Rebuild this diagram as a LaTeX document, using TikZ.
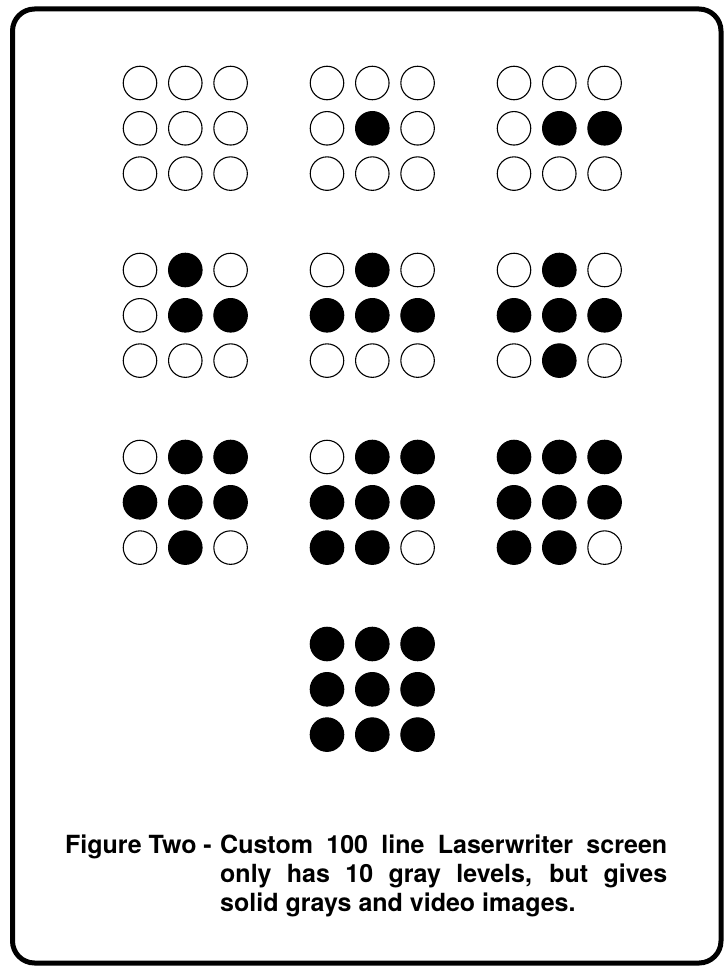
\documentclass[tikz,border=0pt]{standalone}
\usepackage{fontspec}
\setmainfont{TeX Gyre Heros}
\usepackage{xcolor}
\usepackage{tikz}
\usetikzlibrary{positioning}

\begin{document}
\begin{tikzpicture}[
  x=1pt, y=-1pt,
  frame/.style={draw=black, line width=5pt, rounded corners=22pt},
  dotoff/.style={circle, draw=black, fill=white, line width=1.1pt, minimum size=33.5pt, inner sep=0pt},
  doton/.style={circle, draw=black, fill=black, line width=1.1pt, minimum size=33.5pt, inner sep=0pt},
  captext/.style={inner sep=0pt, font=\fontsize{25}{29}\selectfont\bfseries}
]
  \useasboundingbox (0,0) rectangle (724,966);
  \draw[frame] (12.5,9) rectangle (721,963);

  % Screen cells: a dot is black once the level reaches its threshold
  \foreach \lev/\gx/\gy in {0/0/0, 1/1/0, 2/2/0, 3/0/1, 4/1/1, 5/2/1, 6/0/2, 7/1/2, 8/2/2, 9/1/3} {
    \foreach \t [count=\k from 0] in {8,3,6,4,1,2,7,5,9} {
      \pgfmathtruncatemacro{\col}{mod(\k,3)}
      \pgfmathtruncatemacro{\row}{div(\k,3)}
      \ifnum\t>\lev\relax \def\dotstyle{dotoff}\else\def\dotstyle{doton}\fi
      \node[\dotstyle] (cell\lev-\k) at ({140+187*\gx+45.3*\col},{83+187*\gy+45.3*\row}) {};
    }
  }

  % Caption
  \node[captext, text width=447pt, align=justify, anchor=base west] (body) at (220,853)
    {\hyphenpenalty=10000\tolerance=9999 Custom 100 line Laserwriter screen\linebreak only has 10 gray levels, but gives\linebreak solid grays and video images.};
  \node[captext, left=8pt of body.base west, anchor=base east] (figlabel) {Figure Two -};
\end{tikzpicture}
\end{document}
